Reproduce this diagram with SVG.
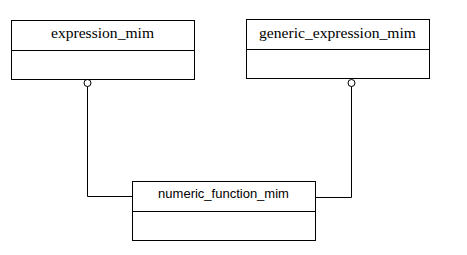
<svg xmlns="http://www.w3.org/2000/svg" width="467" height="255" viewBox="0 0 467 255">
  <style>
    .box { fill: #fff; stroke: #000; stroke-width: 1; }
    .div { stroke: #000; stroke-width: 1; }
    .wire { fill: none; stroke: #000; stroke-width: 1; }
    .ring { fill: #fff; stroke: #000; stroke-width: 1; }
    .serif { font-family: "Liberation Serif", "Times New Roman", serif; font-size: 15px; fill: #000; }
    .sans { font-family: "Liberation Sans", Arial, sans-serif; font-size: 13px; fill: #000; }
  </style>
  <rect width="467" height="255" fill="#fff"/>
  <g id="connectors">
    <path class="wire" d="M87.5,86 V196.5 H132.5"/>
    <path class="wire" d="M315.5,197.5 H351.5 V86"/>
    <circle class="ring" cx="87.5" cy="83" r="3.5"/>
    <circle class="ring" cx="351.5" cy="83" r="3.5"/>
  </g>
  <g id="expression_mim">
    <rect class="box" x="11.5" y="20.5" width="183" height="59"/>
    <line class="div" x1="11.5" y1="50.5" x2="194.5" y2="50.5"/>
    <text class="serif" x="102.5" y="38" text-anchor="middle" textLength="103" lengthAdjust="spacingAndGlyphs">expression_mim</text>
  </g>
  <g id="generic_expression_mim">
    <rect class="box" x="246.5" y="19.5" width="183" height="59"/>
    <line class="div" x1="246.5" y1="49.5" x2="429.5" y2="49.5"/>
    <text class="serif" x="337.5" y="37.5" text-anchor="middle" textLength="157" lengthAdjust="spacingAndGlyphs">generic_expression_mim</text>
  </g>
  <g id="numeric_function_mim">
    <rect class="box" x="132.5" y="181.5" width="183" height="59"/>
    <line class="div" x1="132.5" y1="211.5" x2="315.5" y2="211.5"/>
    <text class="sans" x="223.5" y="198" text-anchor="middle">numeric_function_mim</text>
  </g>
</svg>
